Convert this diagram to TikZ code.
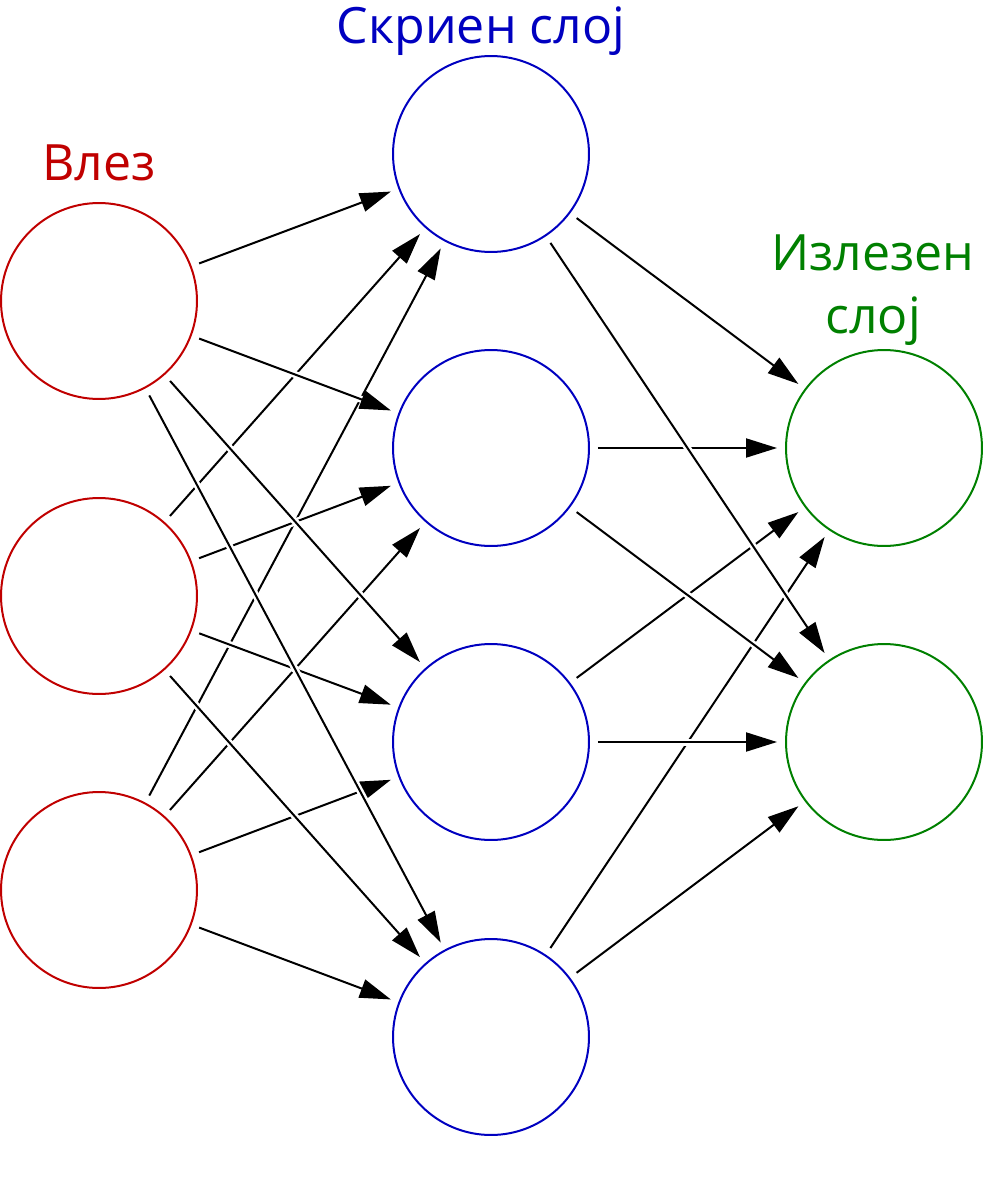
\documentclass[tikz,border=0pt]{standalone}
\usepackage{fontspec}
\setmainfont{Open Sans}
\usetikzlibrary{arrows.meta}
\definecolor{inred}{RGB}{192,0,0}
\definecolor{hidblue}{RGB}{0,0,192}
\definecolor{outgreen}{RGB}{0,128,0}

\begin{document}
\begin{tikzpicture}[x=0.02cm,y=-0.02cm,
  neuron/.style={circle,minimum size=3.92cm,inner sep=0pt,outer sep=0pt,line width=0.04cm},
  link/.style={-{Triangle[length=0.62cm,width=0.38cm]},line width=0.04cm,
    shorten <=0.18cm,shorten >=0.18cm,preaction={draw=white,line width=0.14cm,-}},
  layername/.style={font=\fontsize{28.5}{35.7}\selectfont,anchor=base,align=center}]
\useasboundingbox (0,0) rectangle (986,1186);

% layer names
\path (99,180) node[layername,text=inred] (inlbl) {Влез};
\path (481,44) node[layername,text=hidblue] (hidlbl) {Скриен слој};
\path (873,333) node[layername,text=outgreen] (outlbl) {Излезен\\слој};

% input layer
\path (99,301) node[neuron,draw=inred] (I1) {};
\path (99,596) node[neuron,draw=inred] (I2) {};
\path (99,890) node[neuron,draw=inred] (I3) {};

% hidden layer
\path (491,154) node[neuron,draw=hidblue] (H1) {};
\path (491,448) node[neuron,draw=hidblue] (H2) {};
\path (491,742) node[neuron,draw=hidblue] (H3) {};
\path (491,1037) node[neuron,draw=hidblue] (H4) {};

% output layer
\path (884,448) node[neuron,draw=outgreen] (O1) {};
\path (884,742) node[neuron,draw=outgreen] (O2) {};

% input -> hidden
\draw[link] (I1) -- (H1);
\draw[link] (I2) -- (H1);
\draw[link] (I3) -- (H1);
\draw[link] (I1) -- (H2);
\draw[link] (I2) -- (H2);
\draw[link] (I3) -- (H2);
\draw[link] (I1) -- (H3);
\draw[link] (I2) -- (H3);
\draw[link] (I3) -- (H3);
\draw[link] (I1) -- (H4);
\draw[link] (I2) -- (H4);
\draw[link] (I3) -- (H4);

% hidden -> output
\draw[link] (H1) -- (O1);
\draw[link] (H2) -- (O1);
\draw[link] (H3) -- (O1);
\draw[link] (H4) -- (O1);
\draw[link] (H1) -- (O2);
\draw[link] (H2) -- (O2);
\draw[link] (H3) -- (O2);
\draw[link] (H4) -- (O2);
\end{tikzpicture}
\end{document}
